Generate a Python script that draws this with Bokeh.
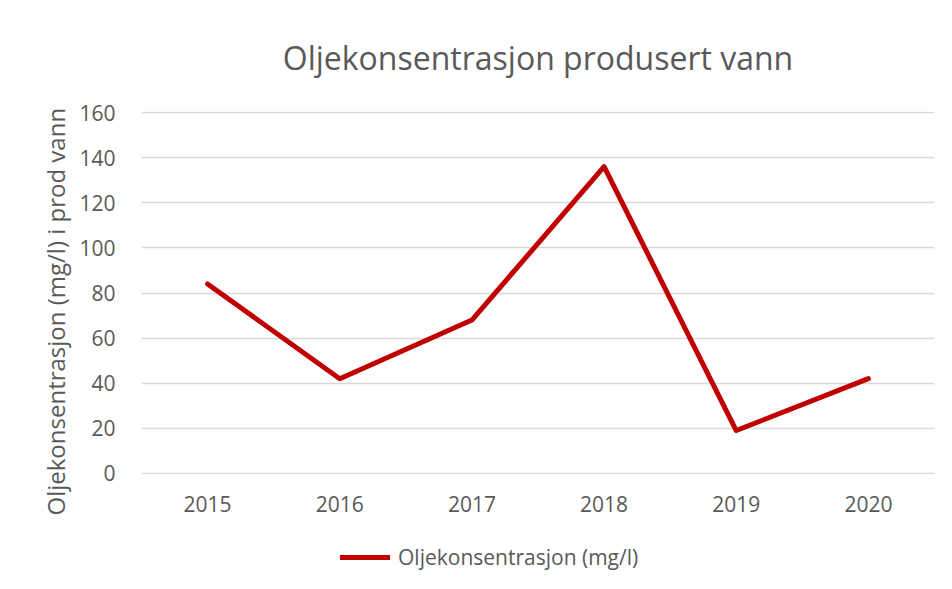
from bokeh.plotting import figure
from bokeh.models import Legend, LegendItem, FixedTicker, Title
from bokeh.layouts import column
from bokeh.embed import file_html
from bokeh.resources import INLINE

years = ["2015", "2016", "2017", "2018", "2019", "2020"]
oil_conc = [84, 42, 68, 136, 19, 42]
y_ticks = [0, 20, 40, 60, 80, 100, 120, 140, 160]
series_name = "Oljekonsentrasjon (mg/l)"

TXT = "#595959"
FONT = "Open Sans"
RED = "#c00000"

p = figure(x_range=years, y_range=(-0.5, 160.5), width=950, height=540,
           output_backend="svg", toolbar_location=None,
           title="Oljekonsentrasjon produsert vann")
p.outline_line_color = None
p.min_border_left = 141
p.min_border_right = 16
p.min_border_top = 109
p.min_border_bottom = 66

p.title.align = "center"
p.title.text_font = FONT
p.title.text_font_size = "32px"
p.title.text_font_style = "normal"
p.title.text_color = TXT
p.title.standoff = 66

p.line(years, oil_conc, line_color=RED, line_width=5, line_join="round", line_cap="round")

p.xgrid.grid_line_color = None
p.ygrid.grid_line_color = "#d9d9d9"
p.ygrid.grid_line_width = 1.5
p.yaxis.ticker = FixedTicker(ticks=y_ticks)

for ax in (p.xaxis[0], p.yaxis[0]):
    ax.axis_line_color = None
    ax.major_tick_line_color = None
    ax.minor_tick_line_color = None
    ax.major_label_text_font = FONT
    ax.major_label_text_font_size = "21px"
    ax.major_label_text_color = TXT
p.xaxis.major_label_standoff = 15
p.yaxis.major_label_standoff = 20

ytitle = Title(text="Oljekonsentrasjon (mg/l) i prod vann" + "\u00a0" * 6, align="center",
               text_font=FONT, text_font_size="24px", text_font_style="normal",
               text_color=TXT, standoff=10)
p.add_layout(ytitle, "left")

# legend strip below the chart (frame is aligned with the chart's frame)
p2 = figure(width=950, height=45, x_range=(0, 1), y_range=(0, 1),
            output_backend="svg", toolbar_location=None, min_border=0)
p2.axis.visible = False
p2.grid.visible = False
p2.outline_line_color = None
proxy = p2.line(x=[float("nan")], y=[float("nan")], line_color=RED, line_width=5, line_cap="round")

legend = Legend(items=[LegendItem(label=series_name, renderers=[proxy])],
                orientation="horizontal", location=(199, 14))
legend.label_text_font = FONT
legend.label_text_font_size = "21px"
legend.label_text_color = TXT
legend.border_line_color = None
legend.background_fill_alpha = 0
legend.glyph_width = 50
legend.glyph_height = 20
legend.label_standoff = 8
legend.margin = 0
legend.padding = 0
p2.add_layout(legend)

layout = column(p, p2, spacing=0)
open("out.html", "w").write(file_html(layout, INLINE))
